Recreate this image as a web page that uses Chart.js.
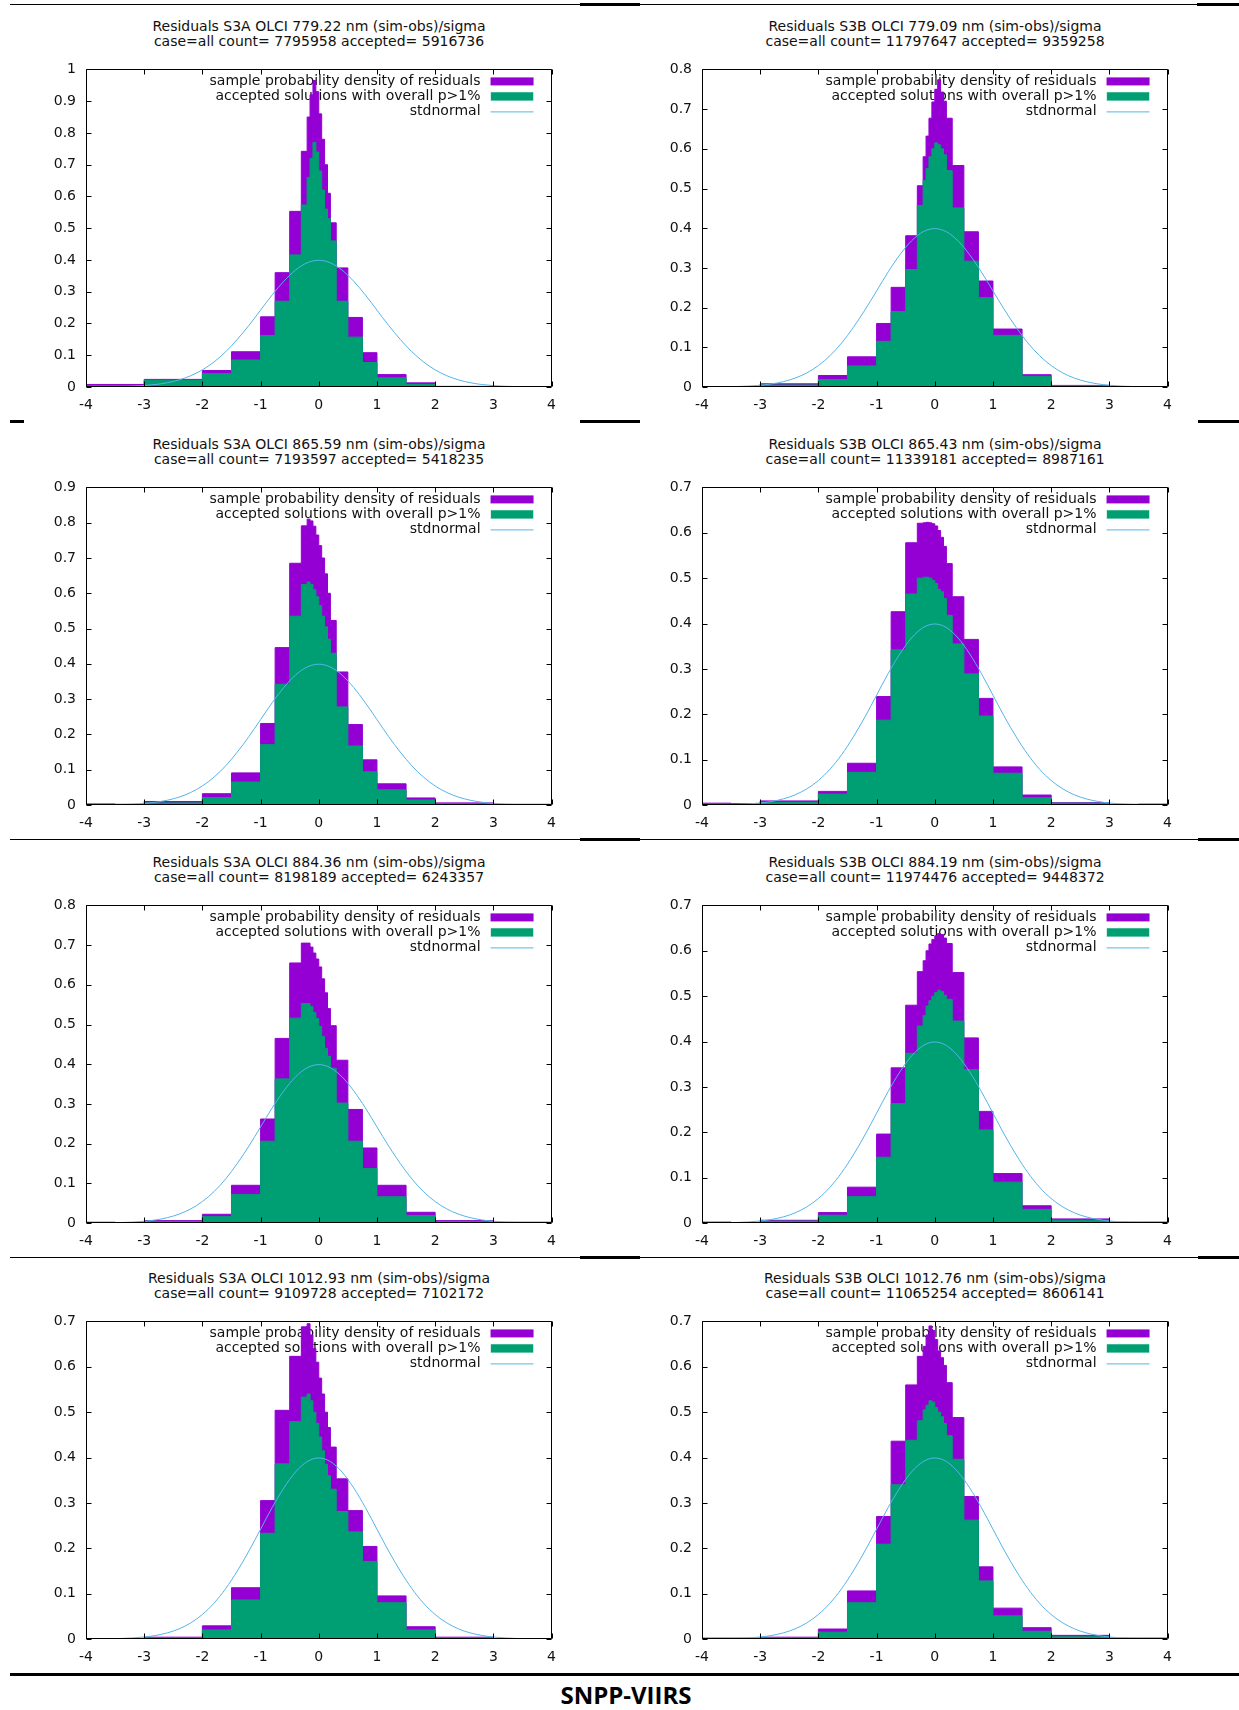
<!DOCTYPE html>
<html lang="en">
<head>
<meta charset="UTF-8">
<title>Residuals S3A / S3B OLCI - SNPP-VIIRS</title>
<script src="https://cdn.jsdelivr.net/npm/chart.js@4.4.1/dist/chart.umd.min.js"></script>
<style>
    body { margin: 0; background: #fff; font-family: 'DejaVu Sans', sans-serif; }
    .page { position: relative; width: 1239px; height: 1710px; overflow: hidden; background: #fff; }
    .panel-title { position: absolute; width: 600px; text-align: center; font-size: 14px; line-height: 15px; color: #111; white-space: nowrap; }
    .rule { position: absolute; background: #000; }
    canvas { position: absolute; }
    .footer { position: absolute; left: 426px; width: 400px; top: 1680px; text-align: center; font-family: 'Open Sans', sans-serif; font-weight: 700; font-size: 24px; line-height: 30px; color: #000; }
</style>
</head>
<body>
<div class="page" id="page">
    <!-- separators between the pasted plots -->
    <div class="rule" style="left:10px;top:4px;width:1229px;height:1px"></div>
    <div class="rule" style="left:580px;top:3px;width:60px;height:3px"></div>
    <div class="rule" style="left:1197px;top:3px;width:42px;height:3px"></div>

    <div class="rule" style="left:10px;top:420px;width:14px;height:3px"></div>
    <div class="rule" style="left:580px;top:420px;width:60px;height:3px"></div>
    <div class="rule" style="left:1198px;top:420px;width:41px;height:3px"></div>

    <div class="rule" style="left:10px;top:839px;width:1229px;height:1px"></div>
    <div class="rule" style="left:580px;top:838px;width:60px;height:3px"></div>
    <div class="rule" style="left:1198px;top:838px;width:41px;height:3px"></div>

    <div class="rule" style="left:10px;top:1257px;width:1229px;height:1px"></div>
    <div class="rule" style="left:580px;top:1256px;width:60px;height:3px"></div>
    <div class="rule" style="left:1198px;top:1256px;width:41px;height:3px"></div>

    <div class="rule" style="left:10px;top:1673px;width:1229px;height:3px"></div>
    <div class="footer">SNPP-VIIRS</div>
</div>

<script>
// histogram bin edges (sigma units), shared by all panels
const binEdges = [-4, -3.5, -3, -2, -1.5, -1, -0.75, -0.5, -0.3, -0.2, -0.15, -0.1, -0.05, 0,
                  0.05, 0.1, 0.15, 0.2, 0.3, 0.5, 0.75, 1, 1.5, 2, 3, 3.5, 4];

// stdnormal curve
const normX = [-3.4, -3.2, -3, -2.8, -2.6, -2.4, -2.2, -2, -1.8, -1.6, -1.4, -1.2, -1, -0.8, -0.6, -0.4, -0.2, 0,
               0.2, 0.4, 0.6, 0.8, 1, 1.2, 1.4, 1.6, 1.8, 2, 2.2, 2.4, 2.6, 2.8, 3, 3.2, 3.4];
const normY = [0.0012, 0.0024, 0.0044, 0.0079, 0.0136, 0.0224, 0.0355, 0.054, 0.079, 0.111, 0.15, 0.194, 0.242, 0.29, 0.333, 0.368, 0.391, 0.399,
               0.391, 0.368, 0.333, 0.29, 0.242, 0.194, 0.15, 0.111, 0.079, 0.054, 0.0355, 0.0224, 0.0136, 0.0079, 0.0044, 0.0024, 0.0012];

const xTicks = [-4, -3, -2, -1, 0, 1, 2, 3, 4];
const keyLabels = ['sample probability density of residuals', 'accepted solutions with overall p>1%', 'stdnormal'];

const titleLines = [
    'Residuals S3A OLCI 779.22 nm (sim-obs)/sigma',
    'Residuals S3B OLCI 779.09 nm (sim-obs)/sigma',
    'Residuals S3A OLCI 865.59 nm (sim-obs)/sigma',
    'Residuals S3B OLCI 865.43 nm (sim-obs)/sigma',
    'Residuals S3A OLCI 884.36 nm (sim-obs)/sigma',
    'Residuals S3B OLCI 884.19 nm (sim-obs)/sigma',
    'Residuals S3A OLCI 1012.93 nm (sim-obs)/sigma',
    'Residuals S3B OLCI 1012.76 nm (sim-obs)/sigma'
];
const countLines = [
    'case=all count= 7795958 accepted= 5916736',
    'case=all count= 11797647 accepted= 9359258',
    'case=all count= 7193597 accepted= 5418235',
    'case=all count= 11339181 accepted= 8987161',
    'case=all count= 8198189 accepted= 6243357',
    'case=all count= 11974476 accepted= 9448372',
    'case=all count= 9109728 accepted= 7102172',
    'case=all count= 11065254 accepted= 8606141'
];
const yMax = [1, 0.8, 0.9, 0.7, 0.8, 0.7, 0.7, 0.7];

// one value per bin (26 bins)
const sampleS3A779   = [0.008, 0.008, 0.024, 0.052, 0.111, 0.221, 0.36, 0.553, 0.742, 0.85, 0.92, 0.965, 0.93, 0.86, 0.78, 0.7, 0.61, 0.517, 0.375, 0.219, 0.108, 0.039, 0.013, 0.002, 0.001, 0.0005];
const acceptedS3A779 = [0.004, 0.004, 0.021, 0.042, 0.085, 0.162, 0.27, 0.416, 0.573, 0.66, 0.72, 0.77, 0.74, 0.68, 0.62, 0.56, 0.53, 0.46, 0.27, 0.157, 0.077, 0.029, 0.008, 0.001, 0.0005, 0];

const sampleS3B779   = [0.001, 0.001, 0.008, 0.029, 0.076, 0.16, 0.251, 0.381, 0.507, 0.58, 0.632, 0.677, 0.718, 0.75, 0.774, 0.743, 0.72, 0.677, 0.558, 0.391, 0.267, 0.146, 0.031, 0.004, 0.0005, 0];
const acceptedS3B779 = [0.001, 0.001, 0.005, 0.019, 0.053, 0.115, 0.19, 0.296, 0.457, 0.52, 0.55, 0.58, 0.6, 0.615, 0.61, 0.6, 0.585, 0.545, 0.451, 0.317, 0.225, 0.13, 0.027, 0.003, 0.0003, 0];

const sampleS3A865   = [0.003, 0.002, 0.01, 0.032, 0.091, 0.231, 0.446, 0.685, 0.791, 0.81, 0.805, 0.79, 0.765, 0.735, 0.7, 0.655, 0.6, 0.523, 0.377, 0.228, 0.128, 0.06, 0.02, 0.006, 0.002, 0.002];
const acceptedS3A865 = [0.002, 0.001, 0.006, 0.021, 0.065, 0.171, 0.342, 0.535, 0.625, 0.632, 0.625, 0.61, 0.59, 0.565, 0.535, 0.505, 0.47, 0.43, 0.278, 0.167, 0.094, 0.043, 0.014, 0.004, 0.001, 0.001];

const sampleS3B865   = [0.004, 0.003, 0.009, 0.03, 0.092, 0.239, 0.426, 0.578, 0.621, 0.622, 0.623, 0.622, 0.62, 0.615, 0.605, 0.59, 0.57, 0.532, 0.459, 0.365, 0.235, 0.084, 0.022, 0.005, 0.0015, 0.002];
const acceptedS3B865 = [0.002, 0.002, 0.006, 0.024, 0.072, 0.187, 0.342, 0.465, 0.5, 0.502, 0.502, 0.5, 0.495, 0.488, 0.475, 0.47, 0.455, 0.418, 0.355, 0.289, 0.196, 0.07, 0.016, 0.004, 0.001, 0];

const sampleS3A884   = [0.002, 0.001, 0.006, 0.022, 0.095, 0.262, 0.465, 0.655, 0.705, 0.705, 0.695, 0.68, 0.665, 0.645, 0.615, 0.58, 0.54, 0.497, 0.41, 0.286, 0.189, 0.095, 0.027, 0.006, 0.002, 0.002];
const acceptedS3A884 = [0.001, 0.001, 0.004, 0.016, 0.072, 0.206, 0.363, 0.516, 0.553, 0.553, 0.545, 0.53, 0.515, 0.495, 0.47, 0.44, 0.42, 0.39, 0.302, 0.206, 0.137, 0.066, 0.019, 0.004, 0.001, 0];

const sampleS3B884   = [0.002, 0.001, 0.006, 0.023, 0.079, 0.196, 0.342, 0.48, 0.554, 0.578, 0.6, 0.615, 0.625, 0.633, 0.638, 0.636, 0.628, 0.616, 0.552, 0.408, 0.246, 0.109, 0.038, 0.009, 0.002, 0.002];
const acceptedS3B884 = [0.001, 0.001, 0.004, 0.017, 0.058, 0.145, 0.263, 0.374, 0.434, 0.457, 0.478, 0.49, 0.5, 0.508, 0.513, 0.51, 0.502, 0.493, 0.445, 0.338, 0.205, 0.09, 0.03, 0.006, 0.001, 0];

const sampleS3A1012   = [0.001, 0.001, 0.004, 0.029, 0.113, 0.305, 0.504, 0.623, 0.688, 0.695, 0.67, 0.64, 0.61, 0.575, 0.54, 0.5, 0.466, 0.423, 0.353, 0.283, 0.204, 0.095, 0.027, 0.004, 0.001, 0.001];
const acceptedS3A1012 = [0.001, 0.001, 0.003, 0.02, 0.086, 0.233, 0.386, 0.479, 0.533, 0.54, 0.525, 0.5, 0.475, 0.445, 0.415, 0.385, 0.36, 0.33, 0.281, 0.236, 0.171, 0.08, 0.02, 0.003, 0.001, 0];

const sampleS3B1012   = [0.002, 0.002, 0.004, 0.022, 0.106, 0.27, 0.436, 0.56, 0.623, 0.645, 0.67, 0.69, 0.68, 0.66, 0.635, 0.62, 0.603, 0.565, 0.488, 0.314, 0.159, 0.068, 0.025, 0.008, 0.002, 0.002];
const acceptedS3B1012 = [0, 0.001, 0.003, 0.015, 0.08, 0.209, 0.34, 0.438, 0.481, 0.505, 0.515, 0.525, 0.522, 0.51, 0.5, 0.49, 0.475, 0.448, 0.396, 0.262, 0.128, 0.051, 0.017, 0.005, 0.001, 0];

const sampleSeries   = [sampleS3A779, sampleS3B779, sampleS3A865, sampleS3B865, sampleS3A884, sampleS3B884, sampleS3A1012, sampleS3B1012];
const acceptedSeries = [acceptedS3A779, acceptedS3B779, acceptedS3A865, acceptedS3B865, acceptedS3A884, acceptedS3B884, acceptedS3A1012, acceptedS3B1012];

// layout of the 2x4 grid (page pixels)
const colLeft = [86, 702];
const rowTop = [63, 481, 899, 1315];
const plotW = 466, plotH = 324;
const padL = 70, padT = 12, padR = 14, padB = 34;

const PURPLE = '#9400d3', GREEN = '#009e73', BLUE = '#56b4e9';

Chart.defaults.font.family = "'DejaVu Sans', sans-serif";
Chart.defaults.font.size = 14;
Chart.defaults.color = '#111';

function stepPoints(values) {
    // left edge of each bin carries the bin value, last edge closes the final bin
    return binEdges.map((e, i) => ({ x: e, y: values[Math.min(i, values.length - 1)] }));
}

// gnuplot style key, drawn under the bars
const gnuKey = {
    id: 'gnuKey',
    beforeDatasetsDraw(chart) {
        const { ctx, chartArea: a } = chart;
        const tx = a.right - 71, sx = a.right - 61, sw = 43;
        ctx.save();
        ctx.font = "14px 'DejaVu Sans'";
        ctx.textAlign = 'right';
        ctx.textBaseline = 'middle';
        keyLabels.forEach((lab, i) => {
            const cy = a.top + 12 + i * 15;
            ctx.fillStyle = '#111';
            ctx.fillText(lab, tx, cy);
            if (i === 0) { ctx.fillStyle = PURPLE; ctx.fillRect(sx, cy - 4, sw, 8); }
            if (i === 1) {
                ctx.fillStyle = '#9fdcc7'; ctx.fillRect(sx, cy - 4.5, sw, 9);
                ctx.fillStyle = GREEN; ctx.fillRect(sx + 0.5, cy - 4, sw - 1, 8);
            }
            if (i === 2) {
                ctx.strokeStyle = BLUE; ctx.lineWidth = 1;
                ctx.beginPath(); ctx.moveTo(sx, cy + 0.5); ctx.lineTo(sx + sw, cy + 0.5); ctx.stroke();
            }
        });
        ctx.restore();
    }
};

// border box with inward ticks on all four sides
const gnuFrame = {
    id: 'gnuFrame',
    afterDatasetsDraw(chart) {
        const { ctx, chartArea: a, scales: { x, y } } = chart;
        const L = Math.round(a.left) + 0.5, R = Math.round(a.right) - 0.5;
        const T = Math.round(a.top) + 0.5, B = Math.round(a.bottom) - 0.5;
        const tl = 5;
        ctx.save();
        ctx.strokeStyle = '#000';
        ctx.lineWidth = 1;
        ctx.beginPath();
        ctx.rect(L, T, R - L, B - T);
        x.ticks.forEach(t => {
            const px = Math.round(x.getPixelForValue(t.value)) + 0.5;
            ctx.moveTo(px, B); ctx.lineTo(px, B - tl);
            ctx.moveTo(px, T); ctx.lineTo(px, T + tl);
        });
        y.ticks.forEach(t => {
            const py = Math.round(y.getPixelForValue(t.value)) + 0.5;
            ctx.moveTo(L, py); ctx.lineTo(L + tl, py);
            ctx.moveTo(R, py); ctx.lineTo(R - tl, py);
        });
        ctx.stroke();
        ctx.restore();
    }
};

const page = document.getElementById('page');

sampleSeries.forEach((sample, k) => {
    const col = k % 2, row = Math.floor(k / 2);
    const left = colLeft[col], top = rowTop[row];

    // title (two lines, centred over the plot)
    const t = document.createElement('div');
    t.className = 'panel-title';
    t.style.left = (left + plotW / 2 - 300) + 'px';
    t.style.top = (top - 44) + 'px';
    t.innerHTML = titleLines[k] + '<br>' + countLines[k];
    page.appendChild(t);

    const cv = document.createElement('canvas');
    cv.width = padL + plotW + padR;
    cv.height = padT + plotH + padB;
    cv.style.left = (left - padL) + 'px';
    cv.style.top = (top - padT) + 'px';
    page.appendChild(cv);

    new Chart(cv.getContext('2d'), {
        type: 'line',
        data: {
            datasets: [
                {
                    label: 'stdnormal',
                    data: normX.map((v, i) => ({ x: v, y: normY[i] })),
                    borderColor: BLUE,
                    borderWidth: 1,
                    pointRadius: 0,
                    cubicInterpolationMode: 'monotone',
                    fill: false,
                    order: 0
                },
                {
                    label: 'accepted solutions with overall p>1%',
                    data: stepPoints(acceptedSeries[k]),
                    stepped: 'before',
                    borderColor: GREEN,
                    borderWidth: 1,
                    backgroundColor: GREEN,
                    pointRadius: 0,
                    fill: 'origin',
                    order: 1
                },
                {
                    label: 'sample probability density of residuals',
                    data: stepPoints(sample),
                    stepped: 'before',
                    borderColor: PURPLE,
                    borderWidth: 1,
                    backgroundColor: PURPLE,
                    pointRadius: 0,
                    fill: 'origin',
                    order: 2
                }
            ]
        },
        options: {
            responsive: false,
            animation: false,
            devicePixelRatio: 1,
            layout: { padding: { left: 0, top: padT, right: padR, bottom: 0 } },
            plugins: { legend: { display: false }, tooltip: { enabled: false } },
            scales: {
                x: {
                    type: 'linear',
                    min: -4,
                    max: 4,
                    afterBuildTicks: s => { s.ticks = xTicks.map(v => ({ value: v })); },
                    afterFit: s => { s.height = padB; },
                    grid: { display: false, drawTicks: false },
                    border: { display: false },
                    ticks: { padding: 10, maxRotation: 0, autoSkip: false, font: { size: 14 } }
                },
                y: {
                    min: 0,
                    max: yMax[k],
                    afterFit: s => { s.width = padL; },
                    grid: { display: false, drawTicks: false },
                    border: { display: false },
                    ticks: {
                        stepSize: 0.1,
                        padding: 10,
                        font: { size: 14 },
                        callback: v => String(Math.round(v * 10) / 10)
                    }
                }
            }
        },
        plugins: [gnuKey, gnuFrame]
    });
});
</script>
</body>
</html>
